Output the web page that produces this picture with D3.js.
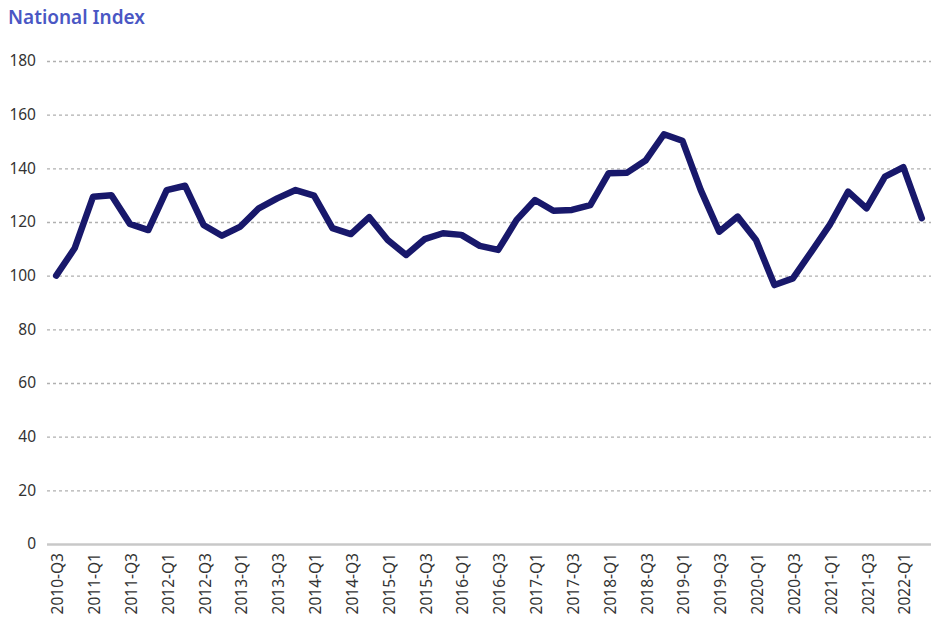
<!DOCTYPE html>
<html>
<head>
<meta charset="utf-8">
<script src="https://cdn.jsdelivr.net/npm/d3@7"></script>
<style>
  html, body { margin: 0; padding: 0; background: #fff; }
  svg { display: block; font-family: "Noto Sans", sans-serif; }
</style>
</head>
<body>
<svg id="chart" width="937" height="629"></svg>
<script>
const title = "National Index";

const quarters = [
  "2010-Q3","2010-Q4",
  "2011-Q1","2011-Q2","2011-Q3","2011-Q4",
  "2012-Q1","2012-Q2","2012-Q3","2012-Q4",
  "2013-Q1","2013-Q2","2013-Q3","2013-Q4",
  "2014-Q1","2014-Q2","2014-Q3","2014-Q4",
  "2015-Q1","2015-Q2","2015-Q3","2015-Q4",
  "2016-Q1","2016-Q2","2016-Q3","2016-Q4",
  "2017-Q1","2017-Q2","2017-Q3","2017-Q4",
  "2018-Q1","2018-Q2","2018-Q3","2018-Q4",
  "2019-Q1","2019-Q2","2019-Q3","2019-Q4",
  "2020-Q1","2020-Q2","2020-Q3","2020-Q4",
  "2021-Q1","2021-Q2","2021-Q3","2021-Q4",
  "2022-Q1","2022-Q2"
];

const indexValues = [
  100, 110.2,
  129.4, 130, 119.3, 117,
  131.9, 133.5, 118.9, 114.9,
  118.3, 125.1, 128.8, 131.9,
  129.8, 117.7, 115.5, 121.8,
  113.3, 107.7, 113.6, 115.8,
  115.2, 111.1, 109.6, 120.8,
  128.2, 124.2, 124.5, 126.3,
  138.2, 138.4, 142.9, 152.7,
  150.3, 131.9, 116.4, 122,
  113.3, 96.5, 99, 108.9,
  118.9, 131.3, 125.1, 136.9,
  140.4, 121.4
];

const yTicks = [0, 20, 40, 60, 80, 100, 120, 140, 160, 180];
const xTickLabels = quarters.filter((q, i) => i % 2 === 0);

const svg = d3.select("#chart");
const m = { left: 47, right: 931, top: 61, bottom: 544 };

const x = d3.scaleBand().domain(quarters).range([m.left, m.right]).padding(0);
const y = d3.scaleLinear().domain([0, 180]).range([m.bottom, m.top]);

// title
svg.append("text")
  .attr("x", 8).attr("y", 24)
  .attr("font-size", 19).attr("font-weight", 600)
  .attr("fill", "#4a57c4")
  .text(title);

// y gridlines + labels
const yAxis = d3.axisLeft(y).tickValues(yTicks).tickSize(-(m.right - m.left)).tickPadding(12);
const yg = svg.append("g").attr("transform", `translate(${m.left},0)`).call(yAxis);
yg.select(".domain").remove();
yg.selectAll(".tick line")
  .attr("stroke", "#b0b0b0")
  .attr("stroke-width", 1.3)
  .attr("stroke-dasharray", d => d === 0 ? null : "3,3");
yg.selectAll(".tick line").filter(d => d === 0)
  .attr("stroke", "#c8c8c8").attr("stroke-width", 2.5);
yg.selectAll(".tick text")
  .attr("font-size", 15.5).attr("fill", "#333")
  .attr("font-family", "Noto Sans, sans-serif")
  .attr("x", -11);

// x labels
const xAxis = d3.axisBottom(x).tickValues(xTickLabels).tickSize(0).tickPadding(0);
const xg = svg.append("g").attr("transform", `translate(0,${m.bottom})`).call(xAxis);
xg.select(".domain").remove();
xg.selectAll(".tick text")
  .attr("font-size", 15.5).attr("fill", "#333")
  .attr("font-family", "Noto Sans, sans-serif")
  .attr("text-anchor", "end")
  .attr("transform", "rotate(-90)")
  .attr("x", -9).attr("y", 0).attr("dy", "0.45em");

// line
const line = d3.line()
  .x((d, i) => x(quarters[i]) + x.bandwidth() / 2)
  .y(d => y(d));

svg.append("path")
  .datum(indexValues)
  .attr("fill", "none")
  .attr("stroke", "#18186b")
  .attr("stroke-width", 6.5)
  .attr("stroke-linejoin", "round")
  .attr("stroke-linecap", "round")
  .attr("d", line);
</script>
</body>
</html>
